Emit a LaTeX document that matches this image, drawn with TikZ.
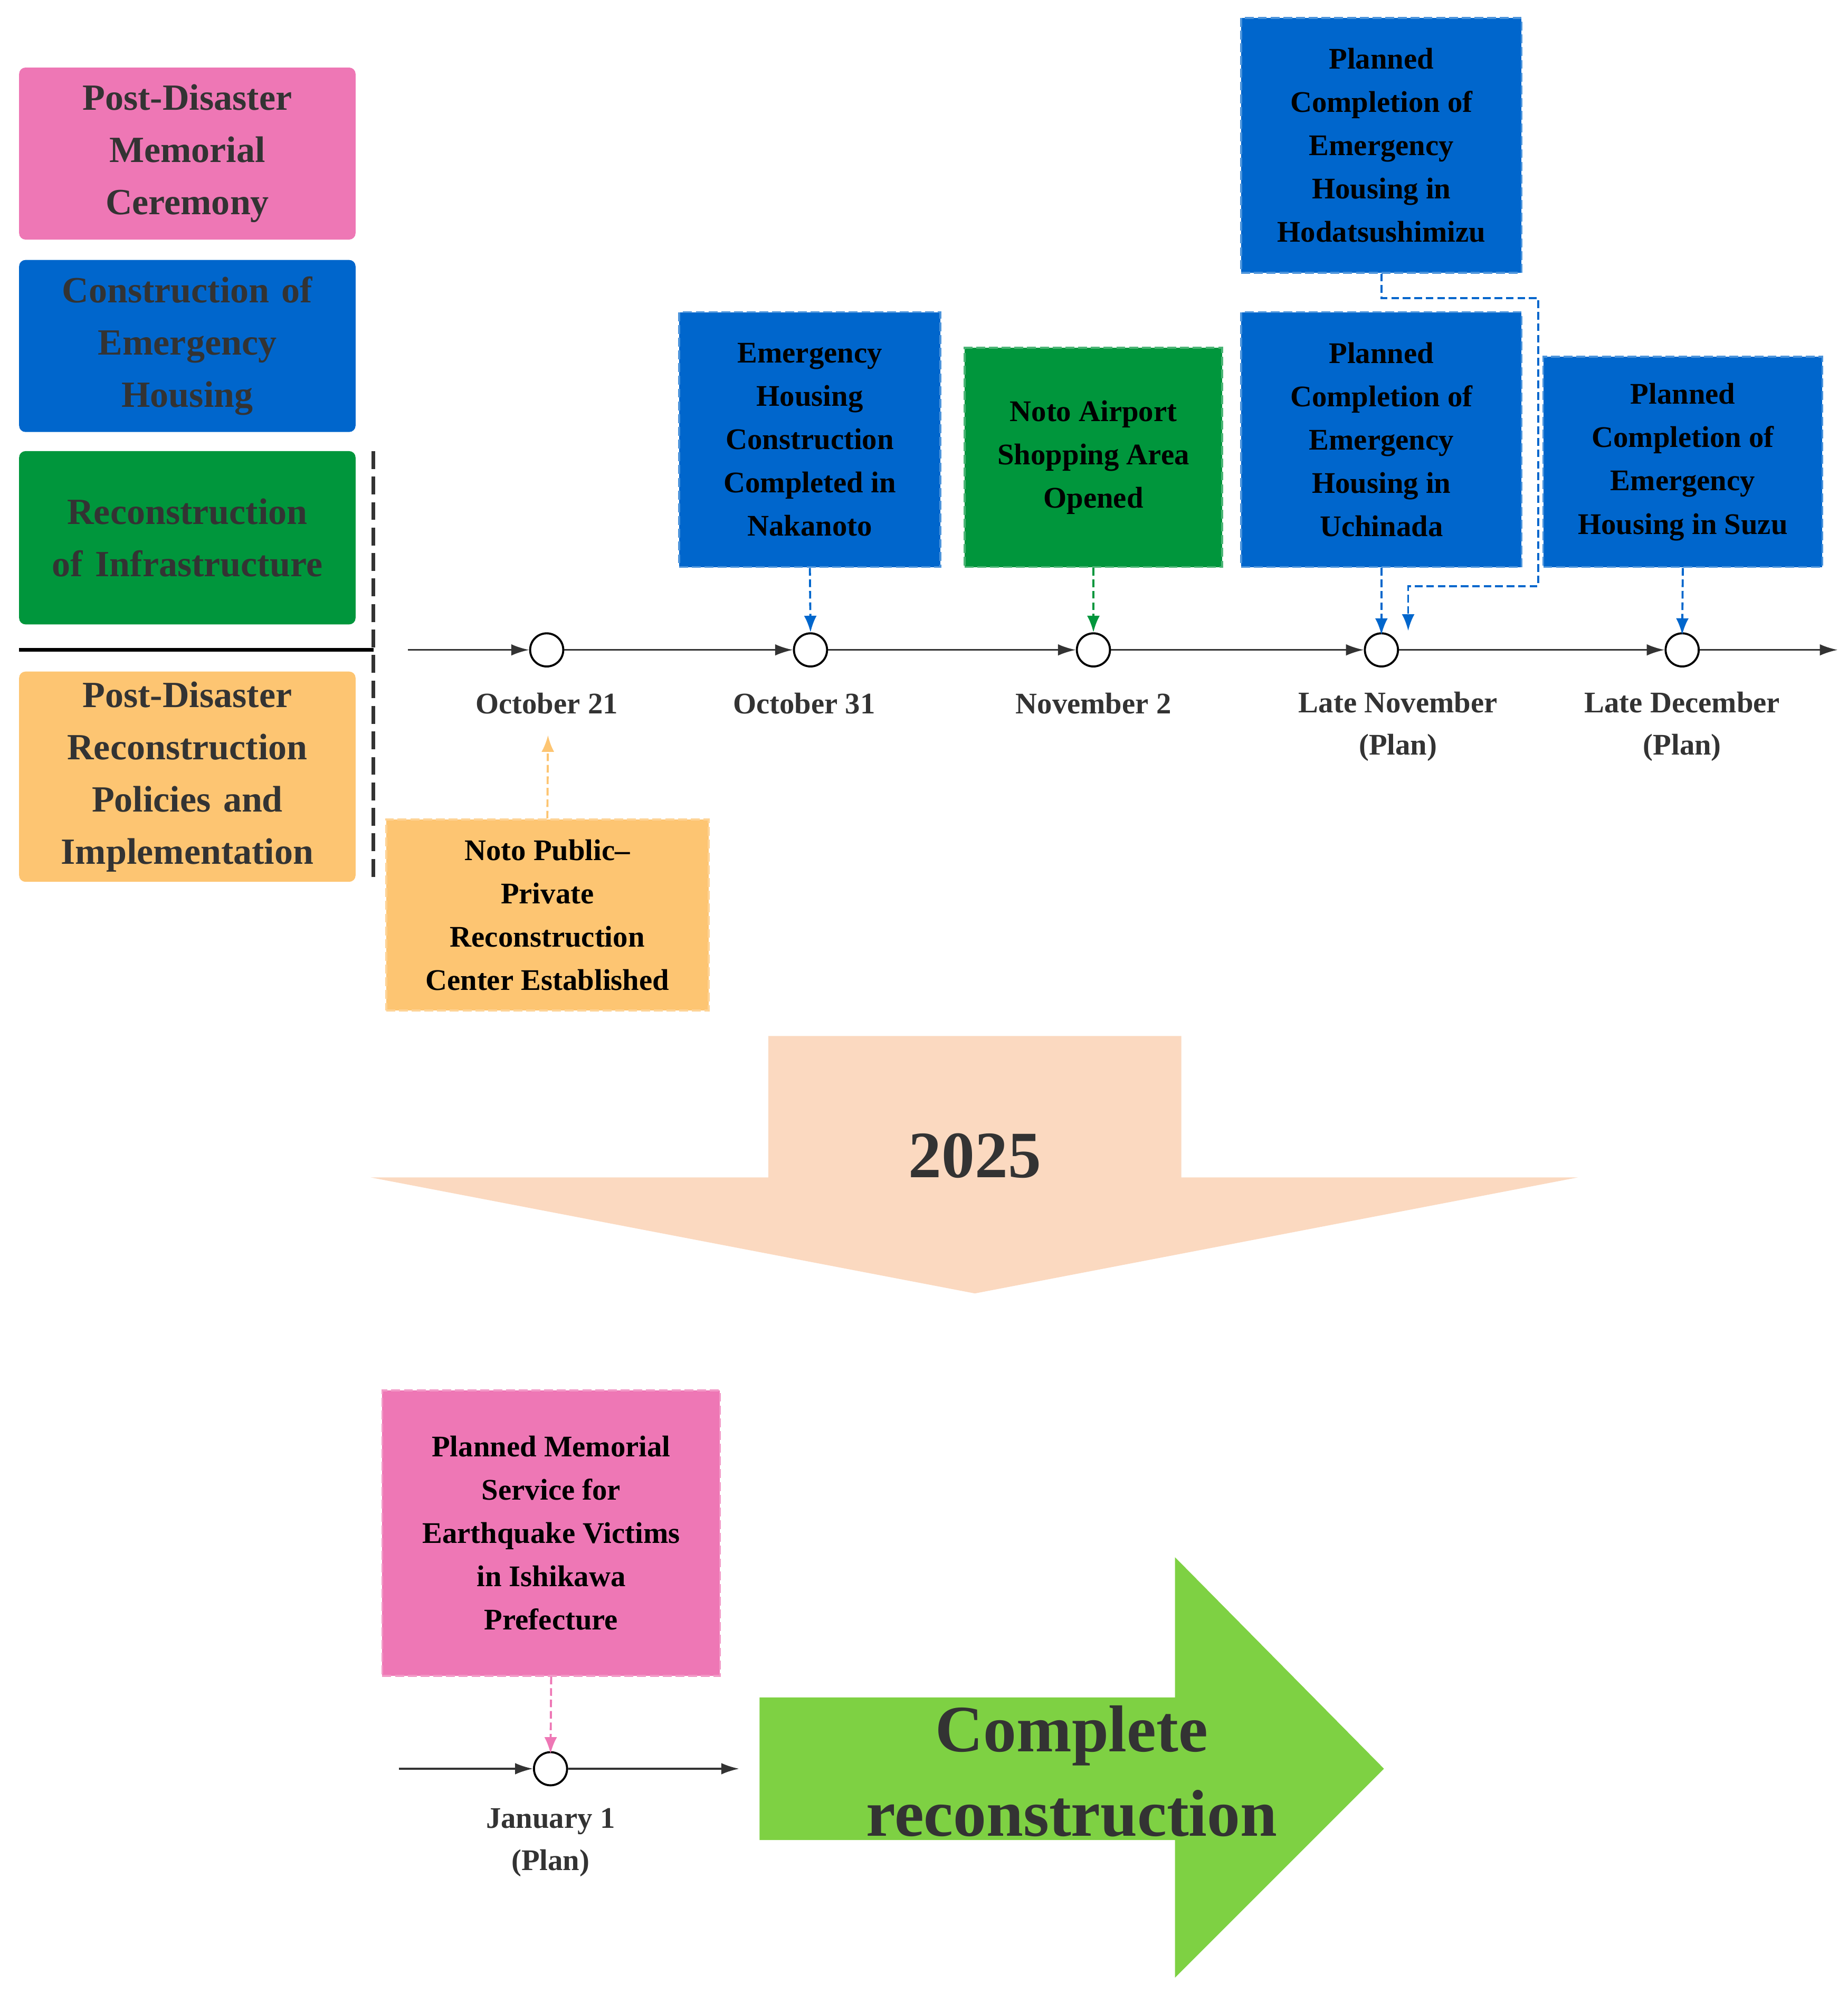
\documentclass[tikz,border=0pt]{standalone}
\usepackage{fontspec}
\setmainfont{Liberation Serif}
\usetikzlibrary{arrows.meta}
\definecolor{cpink}{HTML}{EE77B5}
\definecolor{cblue}{HTML}{0066CC}
\definecolor{cgreen}{HTML}{00963C}
\definecolor{corange}{HTML}{FDC572}
\definecolor{cpeach}{HTML}{FBD9C0}
\definecolor{clime}{HTML}{7ED143}
\definecolor{cdark}{HTML}{333333}
\begin{document}
\begin{tikzpicture}[x=1pt,y=-1pt,
  legend/.style={rounded corners=5pt,minimum width=264pt,text width=250pt,align=center,
    font=\bfseries\fontsize{29}{41}\selectfont,text=cdark,inner sep=0pt},
  evbox/.style={draw,line width=1.5pt,dash pattern=on 7pt off 3pt,align=center,
    font=\bfseries\fontsize{23.5}{34}\selectfont,text=black,inner sep=0pt},
  tl/.style={-{Latex[length=14pt,width=9pt]},line width=1.3pt,cdark},
  dot/.style={circle,draw=black,line width=1.6pt,fill=white,minimum size=26pt,inner sep=0pt},
  lbl/.style={align=center,font=\bfseries\fontsize{23.5}{33}\selectfont,text=cdark},
  conn/.style={-{Latex[length=13pt,width=10pt]},line width=1.6pt,dash pattern=on 6pt off 3pt}
]
\useasboundingbox (0,0) rectangle (1450,1564);
% legend
\node[legend,fill=cpink,minimum height=135pt] (l1) at (147,120.5) {Post-Disaster\\Memorial\\Ceremony};
\node[legend,fill=cblue,minimum height=135pt] (l2) at (147,271.5) {Construction of\\Emergency\\Housing};
\node[legend,fill=cgreen,minimum height=136pt] (l3) at (147,422) {Reconstruction\\of Infrastructure};
\node[legend,fill=corange,minimum height=165pt] (l4) at (147,609.5) {Post-Disaster\\Reconstruction\\Policies and\\Implementation};
\coordinate (h1) at (15,510); \coordinate (h2) at (293,510);
\draw[line width=3pt,black] (h1) -- (h2);
\coordinate (v1) at (293,354); \coordinate (v2) at (293,690);
\draw[line width=3pt,cdark,dash pattern=on 14pt off 6pt] (v1) -- (v2);
% timeline
\coordinate (t0) at (320,510);
\node[dot] (c1) at (429,510) {};
\node[dot] (c2) at (636,510) {};
\node[dot] (c3) at (858,510) {};
\node[dot] (c4) at (1084,510) {};
\node[dot] (c5) at (1320,510) {};
\coordinate (tE) at (1442,510);
\draw[tl] (t0) -- (c1); \draw[tl] (c1) -- (c2); \draw[tl] (c2) -- (c3);
\draw[tl] (c3) -- (c4); \draw[tl] (c4) -- (c5); \draw[tl] (c5) -- (tE);
\node[lbl] (d1) at (429,552) {October 21};
\node[lbl] (d2) at (631,552) {October 31};
\node[lbl] (d3) at (858,552) {November 2};
\node[lbl] (d4) at (1097,570) {Late November\\(Plan)};
\node[lbl] (d5) at (1320,570) {Late December\\(Plan)};
% events
\node[evbox,fill=cblue,draw=cblue!70!white,minimum width=205pt,minimum height=200pt] (e1) at (635.5,345) {Emergency\\Housing\\Construction\\Completed in\\Nakanoto};
\node[evbox,fill=cgreen,draw=cgreen!70!white,minimum width=202pt,minimum height=172pt] (e2) at (858,359) {Noto Airport\\Shopping Area\\Opened};
\node[evbox,fill=cblue,draw=cblue!70!white,minimum width=220pt,minimum height=200pt] (e3) at (1084,114) {Planned\\Completion of\\Emergency\\Housing in\\Hodatsushimizu};
\node[evbox,fill=cblue,draw=cblue!70!white,minimum width=220pt,minimum height=200pt] (e4) at (1084,345) {Planned\\Completion of\\Emergency\\Housing in\\Uchinada};
\node[evbox,fill=cblue,draw=cblue!70!white,minimum width=219pt,minimum height=165pt] (e5) at (1320.5,362.5) {Planned\\Completion of\\Emergency\\Housing in Suzu};
\node[evbox,fill=corange,draw=corange!75!white,minimum width=253pt,minimum height=150pt] (e6) at (429.5,718) {Noto Public--\\Private\\Reconstruction\\Center Established};
% connectors
\draw[conn,cblue] (e1.south) -- (c2.north);
\draw[conn,cgreen] (e2.south) -- (c3.north);
\draw[conn,cblue] (e4.south) -- ([yshift=-2pt]c4.north);
\draw[conn,cblue] (e5.south) -- ([yshift=-2pt]c5.north);
\coordinate (k1) at (1084,234); \coordinate (k2) at (1207,234);
\coordinate (k3) at (1207,460); \coordinate (k4) at (1105,460);
\draw[conn,cblue] (e3.south) -- (k1) -- (k2) -- (k3) -- (k4) -- (1105,495);
\draw[conn,corange] (e6.north) -- (430,577);
% 2025 arrow
\fill[cpeach] (603,813) -- (927,813) -- (927,924) -- (1238,924) -- (765,1015) -- (291,924) -- (603,924) -- cycle;
\node[font=\bfseries\fontsize{52}{60}\selectfont,text=cdark] (y25) at (765,907) {2025};
% lower
\node[evbox,fill=cpink,draw=cpink!75!white,minimum width=265pt,minimum height=224pt] (e7) at (432.5,1203) {Planned Memorial\\Service for\\Earthquake Victims\\in Ishikawa\\Prefecture};
\coordinate (u0) at (313,1388);
\node[dot] (c6) at (432,1388) {};
\coordinate (uE) at (580,1388);
\draw[tl] (u0) -- (c6); \draw[tl] (c6) -- (uE);
\draw[conn,cpink] (e7.south) -- ([yshift=-2pt]c6.north);
\node[lbl] (d6) at (432,1446) {January 1\\(Plan)};
\fill[clime] (596,1332) -- (922,1332) -- (922,1222) -- (1086,1388) -- (922,1552) -- (922,1444) -- (596,1444) -- cycle;
\node[align=center,font=\bfseries\fontsize{52}{66}\selectfont,text=cdark] (cr) at (841,1390) {Complete\\reconstruction};
\end{tikzpicture}
\end{document}
